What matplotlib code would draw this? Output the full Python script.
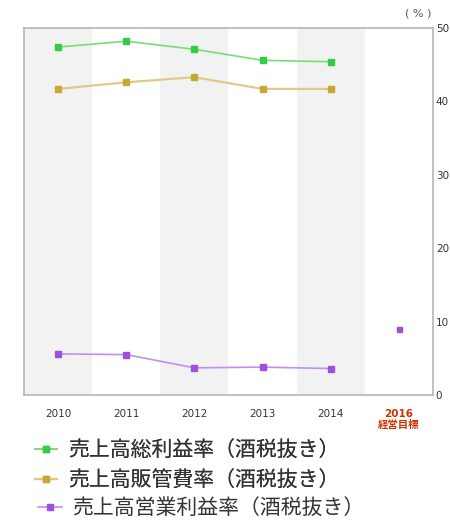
import matplotlib
matplotlib.use("Agg")
import matplotlib.pyplot as plt
from matplotlib.lines import Line2D

plt.rcParams['font.family'] = ['Noto Sans CJK JP', 'DejaVu Sans']

categories = ['2010', '2011', '2012', '2013', '2014', '2016\n経営目標']
gross = [47.4, 48.2, 47.1, 45.6, 45.4]
sga = [41.7, 42.6, 43.3, 41.7, 41.7]
operating = [5.6, 5.5, 3.7, 3.8, 3.6]
target_operating = [9.0]
labels = ['売上高総利益率（酒税抜き）', '売上高販管費率（酒税抜き）', '売上高営業利益率（酒税抜き）']
yticks = [0, 10, 20, 30, 40, 50]

fig = plt.figure(figsize=(4.5, 5.23), dpi=100)
ax = fig.add_axes([24/450, 1-395/523, 409/450, 367/523])

n = len(categories)
for i in range(n):
    if i % 2 == 0:
        ax.axvspan(i-0.5, i+0.5, color='#f2f2f2', lw=0, zorder=0)

ms = 4
xs = list(range(len(gross)))
ax.plot(xs, gross, color='#77dd77', lw=1.2, marker='s', ms=ms, mfc='#33cc44', mec='#33cc44', zorder=3)
ax.plot(xs, sga, color='#ddcc88', lw=1.6, marker='s', ms=ms, mfc='#c8a832', mec='#c8a832', zorder=3)
ax.plot(xs, operating, color='#c090ee', lw=1.2, marker='s', ms=ms, mfc='#a050dd', mec='#a050dd', zorder=3)
ax.plot([n-1], target_operating, ls='none', marker='s', ms=3.6, mfc='#a050dd', mec='#a050dd', zorder=3)

ax.set_xlim(-0.5, n-0.5)
ax.set_ylim(0, 50)
ax.yaxis.tick_right()
ax.set_yticks(yticks)
ax.set_yticklabels([str(v) for v in yticks], fontsize=7.5, color='#333333', family='DejaVu Sans')
ax.tick_params(axis='y', length=0, pad=2)
ax.set_xticks(range(n))
ax.set_xticklabels(categories, fontsize=7.5, color='#333333')
ax.tick_params(axis='x', length=0, pad=10)
for lab in ax.get_xticklabels():
    lab.set_fontfamily(['DejaVu Sans', 'Noto Sans CJK JP'])
lt = ax.get_xticklabels()[-1]
lt.set_color('#cc3300')
lt.set_fontweight('bold')
lt.set_linespacing(1.15)
lt.set_va('top')

for s in ax.spines.values():
    s.set_color('#b8b8b0')
    s.set_linewidth(1.2)

fig.text(418/450, 1-14/523, '( % )', fontsize=8, color='#555555', ha='center', va='center', family='DejaVu Sans')

handles = [
    Line2D([], [], color='#77dd77', lw=1.2, marker='s', ms=ms, mfc='#33cc44', mec='#33cc44'),
    Line2D([], [], color='#ddcc88', lw=1.6, marker='s', ms=ms, mfc='#c8a832', mec='#c8a832'),
    Line2D([], [], color='#c090ee', lw=1.2, marker='s', ms=ms, mfc='#a050dd', mec='#a050dd'),
]
leg1 = fig.legend(handles[:2], labels[:2], loc='upper left', bbox_to_anchor=(27/450, 1-431/523), frameon=False,
                  fontsize=15, handlelength=1.06, handletextpad=0.53, labelspacing=0.4, borderaxespad=0)
leg2 = fig.legend(handles[2:], labels[2:], loc='upper left', bbox_to_anchor=(30/450, 1-489/523), frameon=False,
                  fontsize=15, handlelength=1.15, handletextpad=0.48, borderaxespad=0)
fig.add_artist(leg1)
for leg in (leg1, leg2):
    for t in leg.get_texts():
        t.set_color('#333333')

fig.savefig('out.png', dpi=100)
